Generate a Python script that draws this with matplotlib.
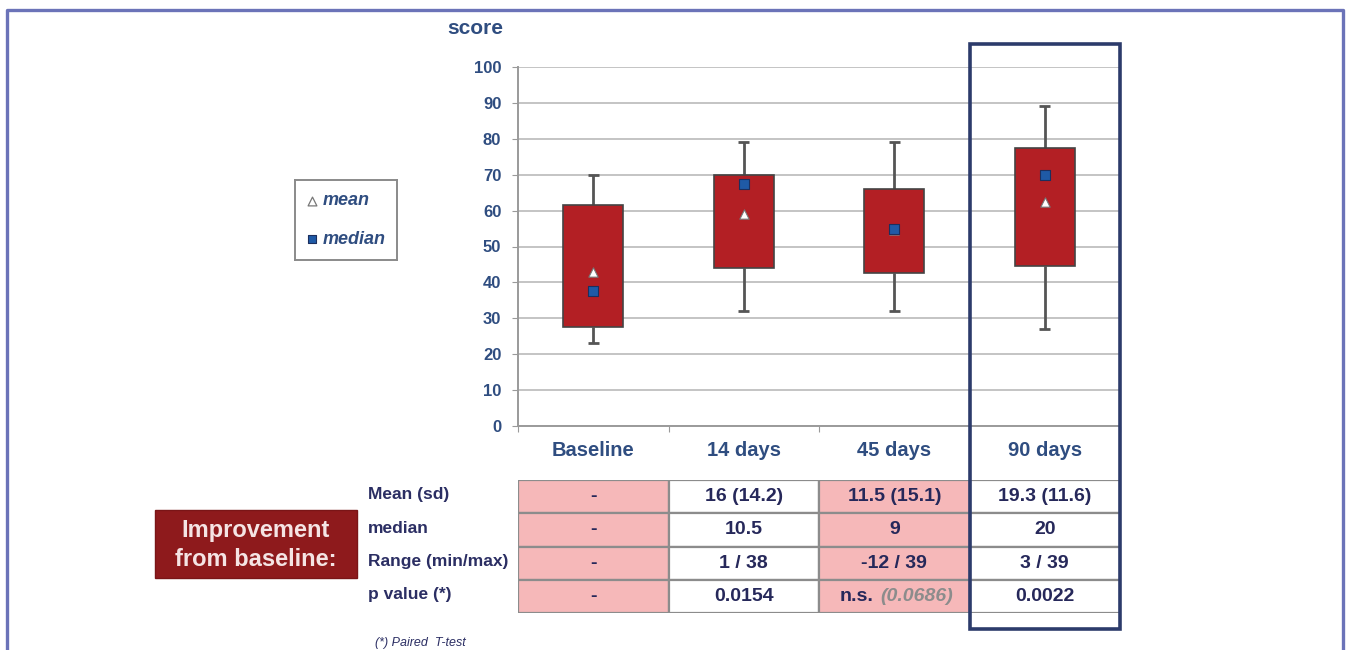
import matplotlib.pyplot as plt
from matplotlib.patches import Rectangle
from matplotlib.lines import Line2D
from matplotlib.transforms import blended_transform_factory

plt.rcParams['font.family'] = ['Liberation Sans', 'DejaVu Sans']

# box plot summary per visit
categories = ['Baseline', '14 days', '45 days', '90 days']
whisker_low = [23, 32, 32, 27]
q1 = [27.5, 44, 42.5, 44.5]
q3 = [61.5, 70, 66, 77.5]
whisker_high = [70, 79, 79, 89]
means = [43, 59, 54.5, 62.5]
medians = [37.5, 67.5, 55, 70]

# improvement from baseline table
row_labels = ['Mean (sd)', 'median', 'Range (min/max)', 'p value (*)']
mean_sd = ['-', '16 (14.2)', '11.5 (15.1)', '19.3 (11.6)']
median_impr = ['-', '10.5', '9', '20']
range_impr = ['-', '1 / 38', '-12 / 39', '3 / 39']
p_values = ['-', '0.0154', 'n.s.', '0.0022']
p_exact = ['', '', '(0.0686)', '']
shaded = [True, False, True, False]

W, H = 1346, 650
BLUE = '#2f4d80'
NAVY = '#26285a'


def fx(x):
    return x / W


def fy(y):
    return 1 - y / H


fig = plt.figure(figsize=(W / 100, H / 100), dpi=100)

# main box plot
ax = fig.add_axes([fx(518), fy(426), (1120 - 518) / W, (426 - 67) / H])
pos = [i + 0.5 for i in range(len(categories))]
ax.set_xlim(0, 4)
ax.set_ylim(0, 100)
ax.set_yticks(range(0, 101, 10))
ax.yaxis.grid(True, color='#c4c4c4', lw=1.4)
ax.set_axisbelow(True)
for s in ['top', 'right']:
    ax.spines[s].set_visible(False)
for s in ['left', 'bottom']:
    ax.spines[s].set_color('#9a9a9a')
    ax.spines[s].set_linewidth(1.4)
ax.set_xticks([0, 1, 2, 3, 4])
ax.set_xticklabels([])
ax.set_xticks(pos, minor=True)
ax.set_xticklabels(categories, minor=True)
ax.tick_params(axis='x', which='major', length=4, color='#9a9a9a', direction='out')
ax.tick_params(axis='x', which='minor', length=0, pad=11, labelsize=14.5,
               labelcolor=BLUE)
ax.tick_params(axis='y', length=4, color='#9a9a9a', pad=8, labelsize=12,
               labelcolor=BLUE)
for t in ax.get_xticklabels(minor=True) + ax.get_yticklabels():
    t.set_fontweight('bold')

heights = [h - l for h, l in zip(q3, q1)]
ax.vlines(pos, whisker_low, q1, color='#555555', lw=2, zorder=2)
ax.vlines(pos, q3, whisker_high, color='#555555', lw=2, zorder=2)
ax.hlines(whisker_low + whisker_high, [p - 0.035 for p in pos] * 2,
          [p + 0.035 for p in pos] * 2, color='#555555', lw=2, zorder=2)
ax.bar(pos, heights, bottom=q1, width=0.4, color='#b31f24',
       edgecolor='#444444', lw=1.2, zorder=3)
ax.scatter(pos, means, marker='^', s=45, color='white', edgecolor='#777777',
           lw=0.8, zorder=4)
ax.scatter(pos, medians, marker='s', s=60, color='#1f5aa6', edgecolor='#1c2f5e',
           lw=0.8, zorder=5)

fig.text(fx(475), fy(29), 'score', ha='center', va='center', fontsize=15,
         fontweight='bold', color=BLUE)

# legend box
lg = fig.add_axes([fx(295), fy(260), (397 - 295) / W, (260 - 180) / H])
lg.set_xlim(0, 1)
lg.set_ylim(0, 1)
lg.set_xticks([])
lg.set_yticks([])
for s in lg.spines.values():
    s.set_color('#8a8a8a')
    s.set_linewidth(1.4)
lg.scatter([0.17], [0.74], marker='^', s=40, color='white', edgecolor='#777777', lw=0.9)
lg.scatter([0.17], [0.26], marker='s', s=40, color='#1f5aa6', edgecolor='#1c2f5e', lw=0.8)
lg.text(0.27, 0.74, 'mean', va='center', fontsize=13, fontstyle='italic',
        fontweight='bold', color=BLUE)
lg.text(0.27, 0.26, 'median', va='center', fontsize=13, fontstyle='italic',
        fontweight='bold', color=BLUE)

# table
tb = fig.add_axes([fx(518), fy(613), (1120 - 518) / W, (613 - 480) / H])
tb.set_xlim(0, 4)
tb.set_ylim(4, 0)
tb.axis('off')
rows = [mean_sd, median_impr, range_impr, p_values]
for j in range(len(categories)):
    for i, row in enumerate(rows):
        tb.add_patch(Rectangle((j, i), 1, 1, facecolor='#f6b8b9' if shaded[j] else 'white',
                               edgecolor='#8c8c8c', lw=1.6))
        if p_exact[j] and row is p_values:
            tb.annotate(row[j], (j + 0.5, i + 0.5), xytext=(-27, 0),
                        textcoords='offset points', ha='center', va='center',
                        fontsize=14, fontweight='bold', color=NAVY)
            tb.annotate(p_exact[j], (j + 0.5, i + 0.5), xytext=(16, 0),
                        textcoords='offset points', ha='center', va='center',
                        fontsize=14, fontweight='bold', fontstyle='italic',
                        color='#8c8c8c')
        else:
            tb.text(j + 0.5, i + 0.5, row[j], ha='center', va='center',
                    fontsize=14, fontweight='bold', color=NAVY)
for i, lab in enumerate(row_labels):
    fig.text(fx(368), fy(480 + 33.25 * (i + 0.45)), lab, ha='left', va='center',
             fontsize=12.5, fontweight='bold', color='#2b2e63')

fig.text(fx(375), fy(643), '(*) Paired  T-test', ha='left', va='center',
         fontsize=9, fontstyle='italic', color='#2b2e63')

# improvement label
fig.add_artist(Rectangle((fx(155), fy(578)), (357 - 155) / W, (578 - 510) / H,
                         transform=fig.transFigure, facecolor='#8e1a1c',
                         edgecolor='#7a1517', lw=1))
fig.text(fx(256), fy(530), 'Improvement', ha='center', va='center', fontsize=17,
         fontweight='bold', color='#f5e4e4')
fig.text(fx(256), fy(559), 'from baseline:', ha='center', va='center', fontsize=17,
         fontweight='bold', color='#f5e4e4')

# highlight frame around the 90 days column
tr = blended_transform_factory(ax.transData, fig.transFigure)
fig.add_artist(Rectangle((3, fy(629)), 1, (629 - 44) / H, transform=tr,
                         fill=False, edgecolor='#2c3b6b', lw=2.6, zorder=10))

# page border
bc = '#6b73b8'
fig.add_artist(Line2D([fx(7), fx(7), fx(1343), fx(1343)],
                      [0, fy(10), fy(10), 0], color=bc, lw=2.4))

fig.savefig('out.png', dpi=100)
